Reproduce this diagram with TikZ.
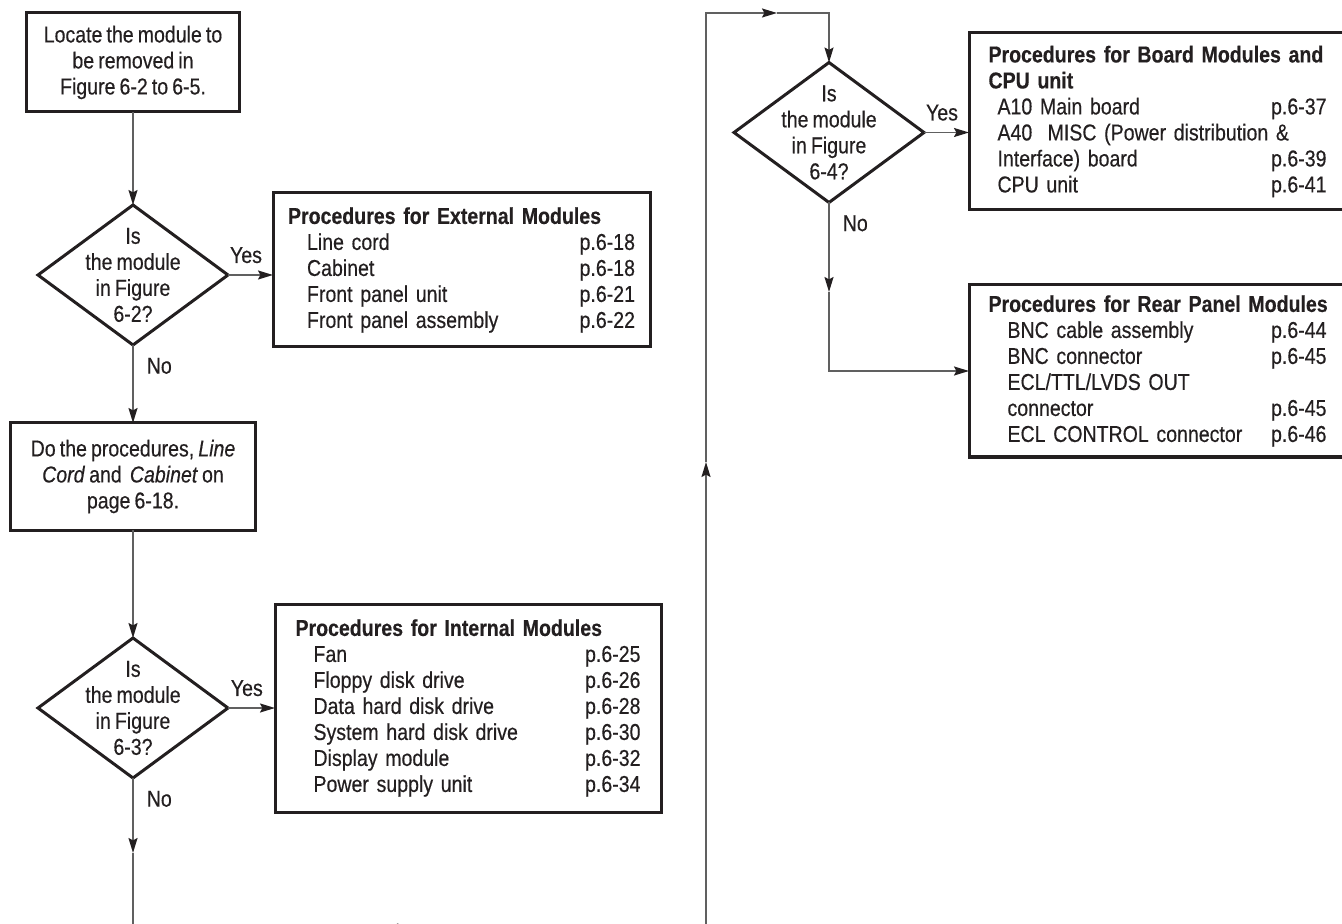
\documentclass[tikz,border=0pt]{standalone}
\usepackage{fontspec}
\setmainfont{Liberation Sans}[FakeStretch=0.85, WordSpace=0.75, FakeBold=0.4]
\usepackage{xcolor}
\usetikzlibrary{shapes.geometric, arrows.meta, positioning}

\definecolor{ink}{HTML}{231F20}
\definecolor{wire}{HTML}{606060}

% one row of a procedure list: indent, name, page
\newcommand{\procitem}[3]{\hspace*{#1}#2\hfill#3}
\newcommand{\proctitle}[1]{\mbox{\textbf{#1}}}

\begin{document}
\begin{tikzpicture}[
    x=0.5pt, y=-0.5pt,
    font=\fontsize{11.5}{13}\selectfont, text=ink,
    stepbox/.style={rectangle, draw=ink, line width=1.5pt, align=center, inner sep=0pt, outer sep=0pt},
    decision/.style={diamond, draw=ink, line width=1.5pt, align=center, inner sep=-20pt, outer sep=0pt, minimum width=95pt, minimum height=70pt},
    procbox/.style={rectangle, draw=ink, line width=1.5pt, align=left, inner ysep=0pt, outer sep=0pt},
    arrow/.style={-{Stealth[length=7.5pt, width=4.5pt, inset=1.2pt, color=ink]}, line width=0.8pt, draw=wire},
    answer/.style={inner sep=2pt}
]
    \useasboundingbox (0,0) rectangle (1342,924);

    % Left column
    \node[stepbox, minimum width=106.5pt, minimum height=49.5pt] (locate) at (133,62.5) {Locate the module to\\be removed in\\Figure 6-2 to 6-5.};
    \node[decision, below=46.5pt of locate] (q1) {Is\\the module\\in Figure\\6-2?};
    \node[stepbox, minimum width=122.5pt, minimum height=53.5pt, below=39pt of q1] (docab) {Do the procedures, \textit{Line}\\\textit{Cord} and\ \ \textit{Cabinet} on\\page 6-18.};
    \node[decision, below=54pt of docab] (q2) {Is\\the module\\in Figure\\6-3?};

    % Procedure lists, left
    \node[procbox, text width=173.5pt, inner xsep=7.5pt, minimum height=77pt, right=22.5pt of q1, yshift=2.5pt] (extproc) {%
        \proctitle{Procedures for External Modules}\\
        \procitem{9.5pt}{Line cord}{p.6-18}\\
        \procitem{9.5pt}{Cabinet}{p.6-18}\\
        \procitem{9.5pt}{Front panel unit}{p.6-21}\\
        \procitem{9.5pt}{Front panel assembly}{p.6-22}};
    \node[procbox, text width=172.5pt, inner xsep=10.25pt, minimum height=104pt, right=23.5pt of q2] (intproc) {%
        \proctitle{Procedures for Internal Modules}\\
        \procitem{9pt}{Fan}{p.6-25}\\
        \procitem{9pt}{Floppy disk drive}{p.6-26}\\
        \procitem{9pt}{Data hard disk drive}{p.6-28}\\
        \procitem{9pt}{System hard disk drive}{p.6-30}\\
        \procitem{9pt}{Display module}{p.6-32}\\
        \procitem{9pt}{Power supply unit}{p.6-34}};

    % Right column
    \node[decision] (q3) at (829,132.5) {Is\\the module\\in Figure\\6-4?};
    \node[procbox, text width=169pt, inner xsep=9.75pt, minimum height=88.5pt, right=22.5pt of q3, yshift=5.5pt] (boardproc) {%
        \proctitle{Procedures for Board Modules and}\\
        \proctitle{CPU unit}\\
        \procitem{4.5pt}{A10 Main board}{p.6-37}\\
        \hspace*{4.5pt}A40\ \ MISC (Power distribution \&\\
        \procitem{4.5pt}{Interface) board}{p.6-39}\\
        \procitem{4.5pt}{CPU unit}{p.6-41}};
    \node[procbox, text width=169pt, inner xsep=9.75pt, minimum height=86pt, below=37.5pt of boardproc.south west, anchor=north west] (rearproc) {%
        \proctitle{Procedures for Rear Panel Modules}\\
        \procitem{9.5pt}{BNC cable assembly}{p.6-44}\\
        \procitem{9.5pt}{BNC connector}{p.6-45}\\
        \hspace*{9.5pt}ECL/TTL/LVDS OUT\\
        \procitem{9.5pt}{connector}{p.6-45}\\
        \procitem{9.5pt}{ECL CONTROL connector}{p.6-46}};

    % Loop corners
    \coordinate (baseY) at (0,928);
    \coordinate (topY) at (0,13);
    \coordinate (dropA) at (133,853);
    \coordinate (runB) at (412,928);
    \coordinate (riseC) at (706,462);
    \coordinate (runD) at (777,13);
    \coordinate (dropE) at (829,292);

    % Arrows
    \draw[arrow] (locate) -- (q1);
    \draw[arrow] (q1) -- node[answer, pos=0, below right=4pt and 4.5pt] {No} (docab);
    \draw[arrow] (docab) -- (q2);
    \draw[arrow] (q1.east) -- node[answer, pos=0.4, above=3.5pt] {Yes} (q1.east -| extproc.west);
    \draw[arrow] (q2.east) -- node[answer, pos=0.4, above=3.5pt] {Yes} (q2.east -| intproc.west);
    \draw[arrow] (q2.south) -- node[answer, pos=0, below right=4pt and 4.5pt] {No} (dropA);
    \draw[arrow] (dropA) -- (dropA |- baseY) -- (runB);
    \draw[arrow] (runB) -- (riseC |- baseY) -- (riseC);
    \draw[arrow] (riseC) -- (riseC |- topY) -- (runD);
    \draw[arrow] (runD) -- (q3.north |- topY) -- (q3.north);
    \draw[arrow] (q3.east) -- node[answer, pos=0.4, above=3.5pt] {Yes} (q3.east -| boardproc.west);
    \draw[arrow] (q3.south) -- node[answer, pos=0, below right=4pt and 4.5pt] {No} (dropE);
    \draw[arrow] (dropE) |- (rearproc.west);

\end{tikzpicture}
\end{document}
